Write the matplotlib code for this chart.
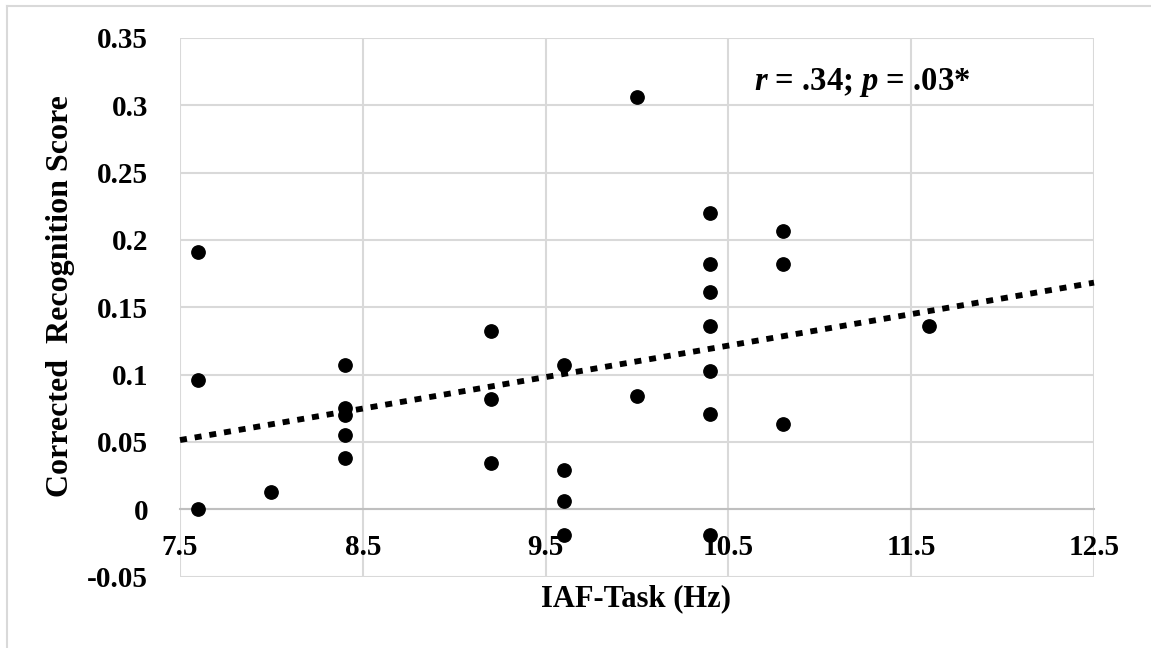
import numpy as np
import matplotlib
matplotlib.use("Agg")
import matplotlib.pyplot as plt
from matplotlib.lines import Line2D

plt.rcParams['font.family'] = ['Liberation Serif', 'DejaVu Serif']
plt.rcParams['font.weight'] = 'bold'
plt.rcParams['mathtext.fontset'] = 'custom'
plt.rcParams['mathtext.rm'] = 'Liberation Serif:bold'
plt.rcParams['mathtext.it'] = 'Liberation Serif:italic:bold'

# IAF-Task (Hz) vs corrected recognition score
iaf = [7.6, 7.6, 7.6,
       8.0,
       8.4, 8.4, 8.4, 8.4, 8.4,
       9.2, 9.2, 9.2,
       9.6, 9.6, 9.6, 9.6,
       10.0, 10.0,
       10.4, 10.4, 10.4, 10.4, 10.4, 10.4, 10.4,
       10.8, 10.8, 10.8,
       11.6]
score = [0.191, 0.096, 0.0,
         0.013,
         0.107, 0.075, 0.070, 0.055, 0.038,
         0.132, 0.082, 0.034,
         0.107, 0.029, 0.006, -0.019,
         0.306, 0.084,
         0.220, 0.182, 0.161, 0.136, 0.103, 0.071, -0.019,
         0.207, 0.182, 0.063,
         0.136]

xticks = [7.5, 8.5, 9.5, 10.5, 11.5, 12.5]
xlabels = ['7.5', '8.5', '9.5', '10.5', '11.5', '12.5']
yticks = [-0.05, 0, 0.05, 0.1, 0.15, 0.2, 0.25, 0.3, 0.35]
ylabels = ['-0.05', '0', '0.05', '0.1', '0.15', '0.2', '0.25', '0.3', '0.35']

W, H = 1151, 648
fig = plt.figure(figsize=(W / 100, H / 100), dpi=100)
ax = fig.add_axes([180 / W, 1 - 576.5 / H, 914 / W, 538.5 / H])

grid = '#d9d9d9'
ax.set_xlim(7.5, 12.5)
ax.set_ylim(-0.05, 0.35)
ax.set_xticks(xticks, xlabels)
ax.set_yticks(yticks, ylabels)
ax.grid(True, color=grid, linewidth=1.5, zorder=0)
ax.set_axisbelow(True)
for s in ['top', 'right', 'left']:
    ax.spines[s].set_visible(False)
ax.spines['bottom'].set_position(('data', 0))
ax.spines['bottom'].set_color('#bfbfbf')
ax.spines['bottom'].set_linewidth(1.5)
ax.tick_params(axis='x', length=0, pad=18, labelsize=21)
ax.tick_params(axis='y', length=0, pad=23, labelsize=21)
for lab in ax.get_xticklabels() + ax.get_yticklabels():
    lab.set_fontweight('bold')

ax.plot(iaf, score, 'o', color='black', markersize=9.6, linestyle='none', zorder=3)

# linear trendline
k, b = np.polyfit(iaf, score, 1)
xs = np.array([7.5, 12.5])
ax.plot(xs, k * xs + b, color='black', linewidth=4.2, linestyle=(0, (1.2, 1.35)),
        dash_capstyle='butt', zorder=4, clip_on=False)

ax.text(10.64, 0.317, r'$\mathit{r}$ = .34; $\mathit{p}$ = .03*', fontsize=23.5,
        fontweight='bold', ha='left', va='center')

fig.text(61 / W, 1 - 296 / H, 'Corrected  Recognition Score', rotation=90,
         ha='center', va='center', fontsize=23, fontweight='bold')
fig.text(636 / W, 1 - 599 / H, 'IAF-Task (Hz)', ha='center', va='center',
         fontsize=22, fontweight='bold')

# outer chart frame (top and left edges visible)
fig.add_artist(Line2D([7.5 / W, 1], [1 - 5.5 / H, 1 - 5.5 / H], color=grid, linewidth=1.5))
fig.add_artist(Line2D([7.5 / W, 7.5 / W], [0, 1 - 5.5 / H], color=grid, linewidth=1.5))

fig.savefig('out.png', dpi=100)
